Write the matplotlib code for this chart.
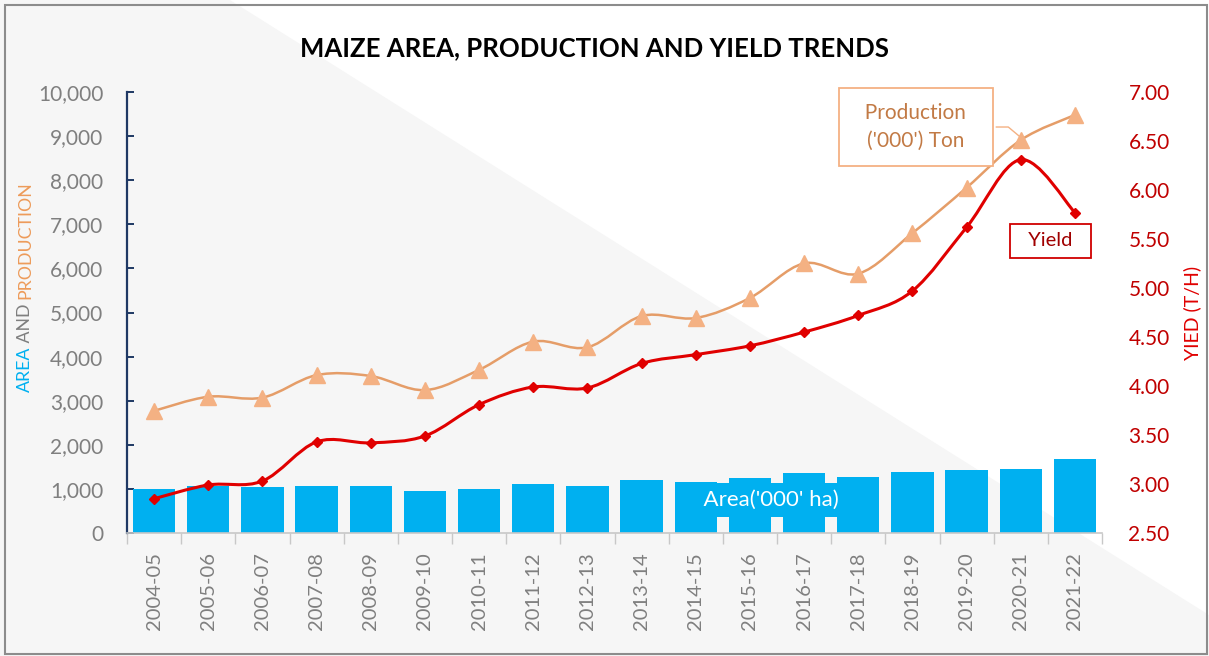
import matplotlib.pyplot as plt
import numpy as np
from matplotlib.path import Path
from matplotlib.patches import PathPatch, Polygon, Rectangle

seasons = ["2004-05", "2005-06", "2006-07", "2007-08", "2008-09", "2009-10",
           "2010-11", "2011-12", "2012-13", "2013-14", "2014-15", "2015-16",
           "2016-17", "2017-18", "2018-19", "2019-20", "2020-21", "2021-22"]
area = [1000, 1060, 1040, 1070, 1070, 945, 990, 1105, 1070, 1195, 1165,
        1240, 1370, 1275, 1390, 1420, 1445, 1670]
production = [2770, 3090, 3070, 3580, 3560, 3240, 3700, 4340, 4210, 4920,
              4875, 5330, 6115, 5880, 6800, 7830, 8910, 9480]
yield_th = [2.85, 2.99, 3.03, 3.43, 3.42, 3.49, 3.81, 3.99, 3.98, 4.23,
            4.32, 4.41, 4.55, 4.72, 4.97, 5.62, 6.31, 5.77]

left_ticks = [0, 1000, 2000, 3000, 4000, 5000, 6000, 7000, 8000, 9000, 10000]
right_ticks = [2.5, 3.0, 3.5, 4.0, 4.5, 5.0, 5.5, 6.0, 6.5, 7.0]

FONT = "Lato"
BLUE = "#00b0f0"
ORANGE_LINE = "#e59d68"
ORANGE_MK = "#f4b183"
RED = "#e00000"
GRAY = "#7f7f7f"


def smooth_path(xs, ys):
    # excel-like smoothed line: cubic bezier segments through every point
    pts = np.column_stack([xs, ys]).astype(float)
    verts = [pts[0]]
    codes = [Path.MOVETO]
    n = len(pts)
    for i in range(n - 1):
        p0 = pts[i - 1] if i > 0 else pts[i]
        p1, p2 = pts[i], pts[i + 1]
        p3 = pts[i + 2] if i + 2 < n else pts[i + 1]
        c1 = p1 + (p2 - p0) / 6.0
        c2 = p2 - (p3 - p1) / 6.0
        verts += [c1, c2, p2]
        codes += [Path.CURVE4] * 3
    return Path(verts, codes)


fig = plt.figure(figsize=(12.09, 6.56), dpi=100)
fig.patch.set_facecolor("white")

# faint background shape
fig.patches.append(Polygon([(0, 1), (230 / 1209, 1), (1, 41 / 656), (1, 0), (0, 0)],
                           closed=True, transform=fig.transFigure,
                           facecolor="#f6f6f6", edgecolor="none", zorder=-10))
fig.patches.append(Rectangle((0.004, 0.003), 0.994, 0.99, transform=fig.transFigure,
                             facecolor="none", edgecolor="#8c8c8c", lw=1.5, zorder=10))

ax = fig.add_axes([127 / 1209, 123 / 656, 975 / 1209, 441 / 656])
ax.set_facecolor("none")
x = np.arange(len(seasons))

ax.bar(x, area, width=0.78, color=BLUE, zorder=2)
ax.set_xlim(-0.5, len(seasons) - 0.5)
ax.set_ylim(0, 10000)
ax.set_yticks(left_ticks)
ax.set_yticklabels([f"{v:,}" for v in left_ticks])

prod_patch = PathPatch(smooth_path(x, production), facecolor="none",
                       edgecolor=ORANGE_LINE, lw=1.8, zorder=3)
ax.add_patch(prod_patch)
ax.plot(x, production, linestyle="none", marker="^", markersize=11,
        color=ORANGE_MK, zorder=4)

for s in ["top", "right"]:
    ax.spines[s].set_visible(False)
ax.spines["left"].set_color("#1f3864")
ax.spines["left"].set_linewidth(1.6)
ax.spines["bottom"].set_color("#c8c8c8")
ax.spines["bottom"].set_linewidth(1.2)
ax.tick_params(axis="y", direction="in", length=5, width=1.4, color="#1f3864",
               labelsize=15, labelcolor=GRAY, pad=17)
ax.set_xticks(x)
ax.set_xticklabels(seasons, rotation=90, fontsize=14.5, color=GRAY, family=FONT)
ax.tick_params(axis="x", length=0, pad=14)
ax.set_xticks(np.arange(-0.5, len(seasons), 1), minor=True)
ax.tick_params(axis="x", which="minor", length=8, width=1, color="#c8c8c8")
for lab in ax.get_yticklabels():
    lab.set_family(FONT)

ax2 = ax.twinx()
ax2.set_ylim(2.5, 7.0)
ax2.set_yticks(right_ticks)
ax2.set_yticklabels([f"{v:.2f}" for v in right_ticks])
for s in ax2.spines.values():
    s.set_visible(False)
ax2.tick_params(axis="y", length=0, labelsize=15, labelcolor="#c00000", pad=19)
for lab in ax2.get_yticklabels():
    lab.set_family(FONT)

yield_patch = PathPatch(smooth_path(x, yield_th), facecolor="none",
                        edgecolor=RED, lw=2.2, zorder=5)
ax2.add_patch(yield_patch)
ax2.plot(x, yield_th, linestyle="none", marker="D", markersize=5.5,
         color=RED, zorder=6)

# axis titles, three colours stacked bottom to top
ax2.set_ylabel("YIED (T/H)", color=RED, fontsize=14, family=FONT, labelpad=10)
t1 = fig.text(25 / 1209, 1 - 392 / 656, "AREA", color=BLUE, rotation=90,
              fontsize=12.8, family=FONT, ha="center", va="bottom")
ann2 = ax.annotate(" AND ", xy=(0.5, 1), xycoords=t1, color=GRAY, rotation=90,
                   fontsize=12.8, family=FONT, ha="center", va="bottom",
                   annotation_clip=False)
ax.annotate("PRODUCTION", xy=(0.5, 1), xycoords=ann2, color="#ed9b5a", rotation=90,
            fontsize=12.8, family=FONT, ha="center", va="bottom",
            annotation_clip=False)

fig.text(0.492, 1 - 48 / 656, "MAIZE AREA, PRODUCTION AND YIELD TRENDS",
         fontsize=18.5, fontweight="bold", family=FONT, color="black",
         ha="center", va="center")

# data labels
ax.text(11.4, 755, "  Area('000' ha)  ", color="white", fontsize=16, family=FONT,
        ha="center", va="center", zorder=7,
        bbox=dict(boxstyle="square,pad=0.32", facecolor=BLUE, edgecolor="none"))
ax.text(14.06, 9206, "  Production  \n('000') Ton", color="#c27a45", fontsize=15,
        family=FONT, ha="center", va="center", linespacing=1.45, zorder=7,
        multialignment="center",
        bbox=dict(boxstyle="square,pad=0.75", facecolor="white",
                  edgecolor="#f4b183", lw=1.3))
ax.plot([15.55, 15.77, 16.0], [9206, 9206, production[16] + 60],
        color="#f4b183", lw=1.0, zorder=3)
ax2.text(16.55, 5.48, "  Yield  ", color="#a00000", fontsize=14.5, family=FONT,
         ha="center", va="center", zorder=7,
         bbox=dict(boxstyle="square,pad=0.4", facecolor="white",
                   edgecolor="#d00000", lw=1.3))

plt.savefig("out.png", dpi=100, facecolor=fig.get_facecolor())
